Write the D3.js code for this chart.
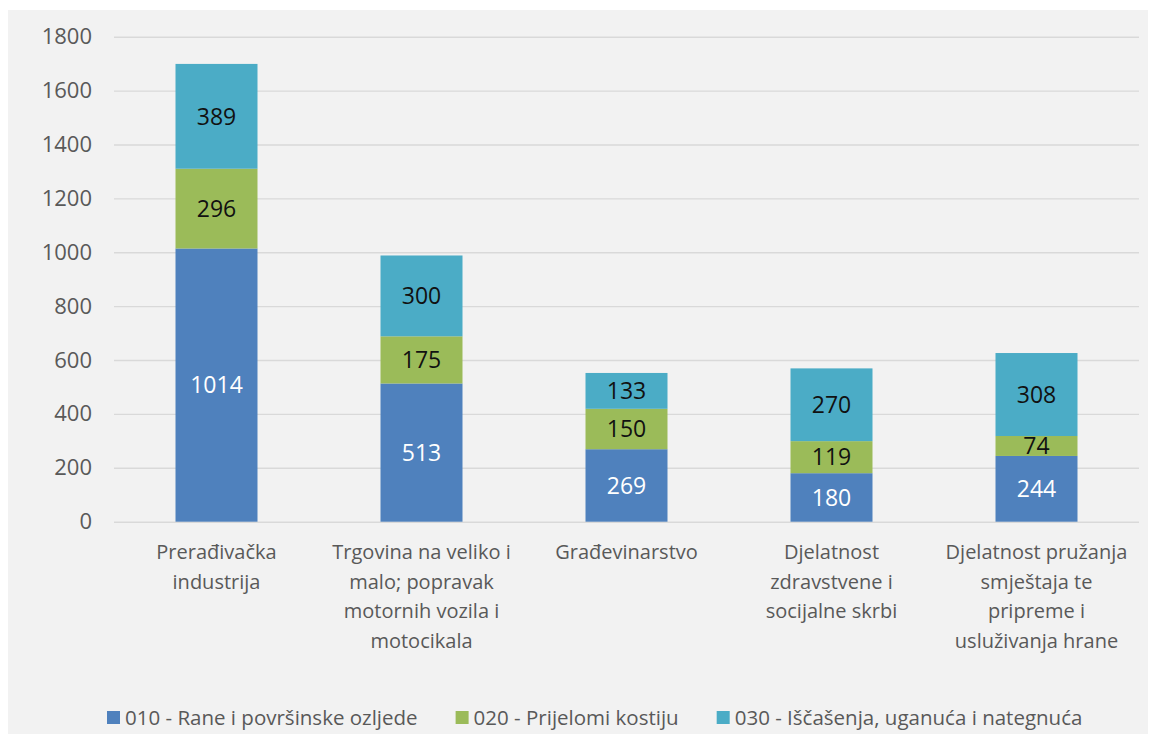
<!DOCTYPE html>
<html>
<head>
<meta charset="utf-8">
<script src="https://cdn.jsdelivr.net/npm/d3@7"></script>
<style>
  body { margin: 0; background: #fff; }
  svg { display: block; font-family: "Open Sans", sans-serif; }
</style>
</head>
<body>
<div id="chart"></div>
<script>
// data
const categories = [
  "Prerađivačka\nindustrija",
  "Trgovina na veliko i\nmalo; popravak\nmotornih vozila i\nmotocikala",
  "Građevinarstvo",
  "Djelatnost\nzdravstvene i\nsocijalne skrbi",
  "Djelatnost pružanja\nsmještaja te\npripreme i\nusluživanja hrane"
];
const seriesNames = [
  "010 - Rane i površinske ozljede",
  "020 - Prijelomi kostiju",
  "030 - Iščašenja, uganuća i nategnuća"
];
const rane = [1014, 513, 269, 180, 244];
const prijelomi = [296, 175, 150, 119, 74];
const iscasenja = [389, 300, 133, 270, 308];
const yTicks = [0, 200, 400, 600, 800, 1000, 1200, 1400, 1600, 1800];

const colors = ["#4f81bd", "#9bbb59", "#4bacc6"];
const labelColors = ["#ffffff", "#111111", "#111111"];

const W = 1151, H = 734;
const plot = {left: 114, right: 1139, top: 36.7, bottom: 521.7};

const svg = d3.select("#chart").append("svg")
  .attr("width", W)
  .attr("height", H);

// grey chart panel
svg.append("rect")
  .attr("x", 8).attr("y", 10)
  .attr("width", 1140).attr("height", H - 10)
  .attr("fill", "#f2f2f2");

const x = d3.scaleBand()
  .domain(categories)
  .range([plot.left, plot.right])
  .paddingInner(0.6)
  .paddingOuter(0.3);

const y = d3.scaleLinear()
  .domain([0, 1800])
  .range([plot.bottom, plot.top]);

// gridlines + tick labels
const yAxis = svg.append("g")
  .attr("transform", "translate(" + plot.left + ",0)")
  .call(d3.axisLeft(y).tickValues(yTicks).tickFormat(d3.format("d"))
    .tickSize(-(plot.right - plot.left)).tickPadding(22));
yAxis.select(".domain").remove();
yAxis.selectAll(".tick line").attr("stroke", "#d9d9d9").attr("stroke-width", 1.4);
yAxis.selectAll(".tick text")
  .attr("fill", "#595959")
  .attr("font-size", 22)
  .attr("font-family", "Open Sans, sans-serif");

// stack
const rows = categories.map((c, i) => ({cat: c, s0: rane[i], s1: prijelomi[i], s2: iscasenja[i]}));
const keys = ["s0", "s1", "s2"];
const stacked = d3.stack().keys(keys)(rows);

const layers = svg.append("g")
  .selectAll("g")
  .data(stacked)
  .enter().append("g")
    .attr("fill", (d, i) => colors[i]);

layers.selectAll("rect")
  .data(d => d)
  .enter().append("rect")
    .attr("x", d => x(d.data.cat))
    .attr("y", d => y(d[1]))
    .attr("width", x.bandwidth())
    .attr("height", d => y(d[0]) - y(d[1]));

// value labels
stacked.forEach((layer, i) => {
  svg.append("g")
    .selectAll("text")
    .data(layer)
    .enter().append("text")
      .attr("x", d => x(d.data.cat) + x.bandwidth() / 2)
      .attr("y", d => (y(d[0]) + y(d[1])) / 2)
      .attr("dy", "0.36em")
      .attr("text-anchor", "middle")
      .attr("font-size", 23)
      .attr("fill", labelColors[i])
      .text(d => d[1] - d[0]);
});

// category labels
const catG = svg.append("g")
  .selectAll("text")
  .data(categories)
  .enter().append("text")
    .attr("x", d => x(d) + x.bandwidth() / 2)
    .attr("y", 559)
    .attr("text-anchor", "middle")
    .attr("font-size", 20)
    .attr("fill", "#595959");
catG.selectAll("tspan")
  .data(d => d.split("\n"))
  .enter().append("tspan")
    .attr("x", function() { return this.parentNode.getAttribute("x"); })
    .attr("dy", (d, i) => i === 0 ? 0 : 29.7)
    .text(d => d);

// legend
const legend = svg.append("g").attr("font-size", 20.5).attr("fill", "#595959");
let lx = 107;
seriesNames.forEach((name, i) => {
  legend.append("rect")
    .attr("x", lx).attr("y", 711)
    .attr("width", 13).attr("height", 13)
    .attr("fill", colors[i]);
  const t = legend.append("text")
    .attr("x", lx + 18)
    .attr("y", 725)
    .text(name);
  lx += 18 + t.node().getComputedTextLength() + 38;
});
</script>
</body>
</html>
